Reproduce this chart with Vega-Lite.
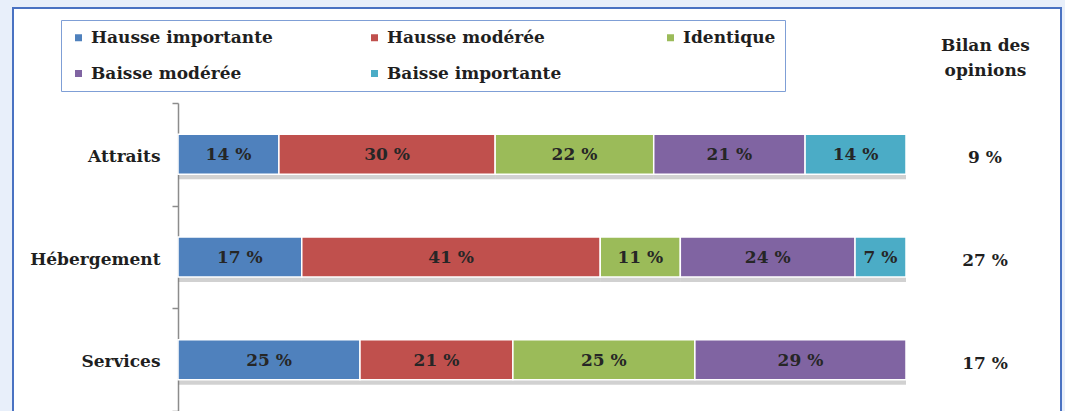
{
  "$schema": "https://vega.github.io/schema/vega-lite/v6.json",
  "width": 1048,
  "height": 420,
  "autosize": {"type": "none"},
  "padding": {"left": 13, "top": 8, "right": 4, "bottom": 0},
  "background": "#e8effa",
  "config": {
    "view": {"stroke": "#4a72c2", "strokeWidth": 2, "fill": "white"},
    "font": "DejaVu Serif"
  },
  "datasets": {
    "parts": [
      {"cat": "Attraits", "series": "Hausse importante", "k": 1, "v": 14},
      {"cat": "Attraits", "series": "Hausse modérée", "k": 2, "v": 30},
      {"cat": "Attraits", "series": "Identique", "k": 3, "v": 22},
      {"cat": "Attraits", "series": "Baisse modérée", "k": 4, "v": 21},
      {"cat": "Attraits", "series": "Baisse importante", "k": 5, "v": 14},
      {"cat": "Hébergement", "series": "Hausse importante", "k": 1, "v": 17},
      {"cat": "Hébergement", "series": "Hausse modérée", "k": 2, "v": 41},
      {"cat": "Hébergement", "series": "Identique", "k": 3, "v": 11},
      {"cat": "Hébergement", "series": "Baisse modérée", "k": 4, "v": 24},
      {"cat": "Hébergement", "series": "Baisse importante", "k": 5, "v": 7},
      {"cat": "Services", "series": "Hausse importante", "k": 1, "v": 25},
      {"cat": "Services", "series": "Hausse modérée", "k": 2, "v": 21},
      {"cat": "Services", "series": "Identique", "k": 3, "v": 25},
      {"cat": "Services", "series": "Baisse modérée", "k": 4, "v": 29}
    ],
    "bilan": [
      {"cat": "Attraits", "b": 9},
      {"cat": "Hébergement", "b": 27},
      {"cat": "Services", "b": 17}
    ]
  },
  "encoding": {
    "y": {
      "field": "cat",
      "type": "nominal",
      "sort": ["Attraits", "Hébergement", "Services"],
      "scale": {"domain": ["Attraits", "Hébergement", "Services"], "range": [95, 403], "paddingInner": 0, "paddingOuter": 0},
      "axis": {
        "orient": "left",
        "offset": -165,
        "title": null,
        "domainColor": "#8c8c8c",
        "domainWidth": 1.5,
        "tickColor": "#8c8c8c",
        "tickWidth": 1.5,
        "tickSize": 6,
        "tickBand": "extent",
        "labelFont": "DejaVu Serif",
        "labelFontWeight": "bold",
        "labelFontSize": 17,
        "labelColor": "#1f1f1f",
        "labelPadding": 12,
        "labelOffset": 2,
        "grid": false
      }
    }
  },
  "layer": [
    {
      "data": {"name": "parts"},
      "mark": {"type": "bar", "color": "#7a7a7a", "opacity": 0.35, "yOffset": 5, "height": {"band": 0.39}},
      "encoding": {
        "x": {"field": "v", "type": "quantitative", "stack": "normalize",
              "scale": {"domain": [0, 1], "range": [165, 893], "nice": false, "zero": false},
              "axis": {"orient": "top", "domain": false, "ticks": false, "labels": false, "grid": false,
                       "title": ["Bilan des", "opinions"], "titleX": 972, "titleY": 37.5, "titleBaseline": "middle",
                       "titleAlign": "center", "titleAngle": 0, "titleFont": "DejaVu Serif", "titleFontSize": 17,
                       "titleFontWeight": "bold", "titleLineHeight": 25, "titleColor": "#1f1f1f"}},
        "detail": {"field": "series"},
        "order": {"field": "k"}
      }
    },
    {
      "data": {"name": "parts"},
      "mark": {"type": "bar", "stroke": "white", "strokeWidth": 1.5, "height": {"band": 0.39}},
      "encoding": {
        "x": {"field": "v", "type": "quantitative", "stack": "normalize",
              "scale": {"domain": [0, 1], "range": [165, 893], "nice": false, "zero": false},
              "axis": {"orient": "top", "domain": false, "ticks": false, "labels": false, "grid": false,
                       "title": ["Bilan des", "opinions"], "titleX": 972, "titleY": 37.5, "titleBaseline": "middle",
                       "titleAlign": "center", "titleAngle": 0, "titleFont": "DejaVu Serif", "titleFontSize": 17,
                       "titleFontWeight": "bold", "titleLineHeight": 25, "titleColor": "#1f1f1f"}},
        "color": {
          "field": "series",
          "type": "nominal",
          "scale": {
            "domain": ["Hausse importante", "Hausse modérée", "Identique", "Baisse modérée", "Baisse importante"],
            "range": ["#4F81BD", "#C0504D", "#9BBB59", "#8064A2", "#4BACC6"]
          },
          "legend": {
            "orient": "none",
            "legendX": 48,
            "legendY": 12,
            "direction": "horizontal",
            "columns": 3,
            "gridAlign": "all",
            "columnPadding": 93,
            "rowPadding": 18,
            "symbolType": "square",
            "symbolSize": 49,
            "symbolStrokeWidth": 0,
            "labelOffset": 4,
            "labelFont": "DejaVu Serif",
            "labelFontSize": 17,
            "labelFontWeight": "bold",
            "labelColor": "#1f1f1f",
            "labelLimit": 0,
            "title": null,
            "padding": 9,
            "strokeColor": "#7f9fd6",
            "fillColor": "white"
          }
        },
        "order": {"field": "k"}
      }
    },
    {
      "data": {"name": "parts"},
      "transform": [{"calculate": "datum.v + ' %'", "as": "lab"}],
      "mark": {"type": "text", "font": "DejaVu Serif", "fontWeight": "bold", "fontSize": 17, "color": "#262626", "baseline": "middle", "align": "center", "dy": 1},
      "encoding": {
        "x": {"field": "v", "type": "quantitative", "stack": "normalize", "bandPosition": 0.5,
              "scale": {"domain": [0, 1], "range": [165, 893], "nice": false, "zero": false},
              "axis": {"orient": "top", "domain": false, "ticks": false, "labels": false, "grid": false,
                       "title": ["Bilan des", "opinions"], "titleX": 972, "titleY": 37.5, "titleBaseline": "middle",
                       "titleAlign": "center", "titleAngle": 0, "titleFont": "DejaVu Serif", "titleFontSize": 17,
                       "titleFontWeight": "bold", "titleLineHeight": 25, "titleColor": "#1f1f1f"}},
        "detail": {"field": "series"},
        "order": {"field": "k"},
        "text": {"field": "lab", "type": "nominal"}
      }
    },
    {
      "data": {"name": "bilan"},
      "transform": [{"calculate": "datum.b + ' %'", "as": "lab"}],
      "mark": {"type": "text", "font": "DejaVu Serif", "fontWeight": "bold", "fontSize": 17, "color": "#1f1f1f", "baseline": "middle", "align": "center", "dy": 4},
      "encoding": {
        "x": {"datum": 1.1085, "type": "quantitative",
              "scale": {"domain": [0, 1], "range": [165, 893], "nice": false, "zero": false},
              "axis": {"orient": "top", "domain": false, "ticks": false, "labels": false, "grid": false,
                       "title": ["Bilan des", "opinions"], "titleX": 972, "titleY": 37.5, "titleBaseline": "middle",
                       "titleAlign": "center", "titleAngle": 0, "titleFont": "DejaVu Serif", "titleFontSize": 17,
                       "titleFontWeight": "bold", "titleLineHeight": 25, "titleColor": "#1f1f1f"}},
        "text": {"field": "lab", "type": "nominal"}
      }
    }
  ]
}
